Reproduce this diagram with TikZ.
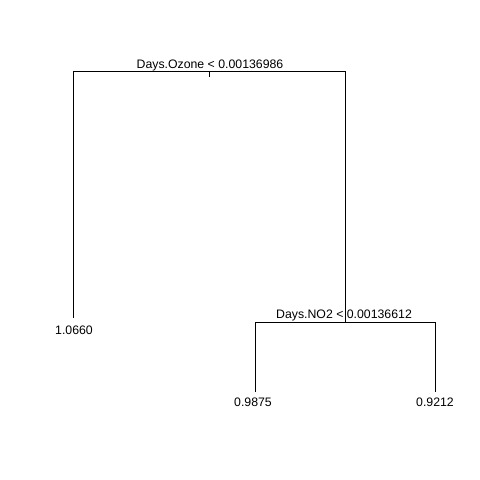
\documentclass[tikz,border=0pt]{standalone}
\usepackage{fontspec}
\setmainfont{Liberation Sans}
\begin{document}
\begin{tikzpicture}[x=1pt,y=-1pt,
  lbl/.style={anchor=base,inner sep=0pt,font=\fontsize{12.3}{14}\selectfont},
  br/.style={draw=black,line width=0.8pt}]
\useasboundingbox[fill=white] (0,0) rectangle (480,480);
\coordinate (r) at (209,71);
\coordinate (rt) at (209,77);
\coordinate (rl) at (73,71);
\coordinate (rr) at (345,71);
\coordinate (l1) at (73,318);
\coordinate (n2) at (345,322);
\coordinate (n2l) at (255,322);
\coordinate (n2r) at (435,322);
\coordinate (l2) at (255,392);
\coordinate (l3) at (435,392);
\draw[br] (l1) -- (rl) -- (rr) -- (n2);
\draw[br] (r) -- (rt);
\draw[br] (l2) -- (n2l) -- (n2r) -- (l3);
\node[lbl] (t1) at (210,68) {Days.Ozone < 0.00136986};
\node[lbl] (t2) at (344,318) {Days.NO2 < 0.00136612};
\node[lbl] (v1) at (74,334) {1.0660};
\node[lbl] (v2) at (253,406) {0.9875};
\node[lbl] (v3) at (435,406) {0.9212};
\end{tikzpicture}
\end{document}
